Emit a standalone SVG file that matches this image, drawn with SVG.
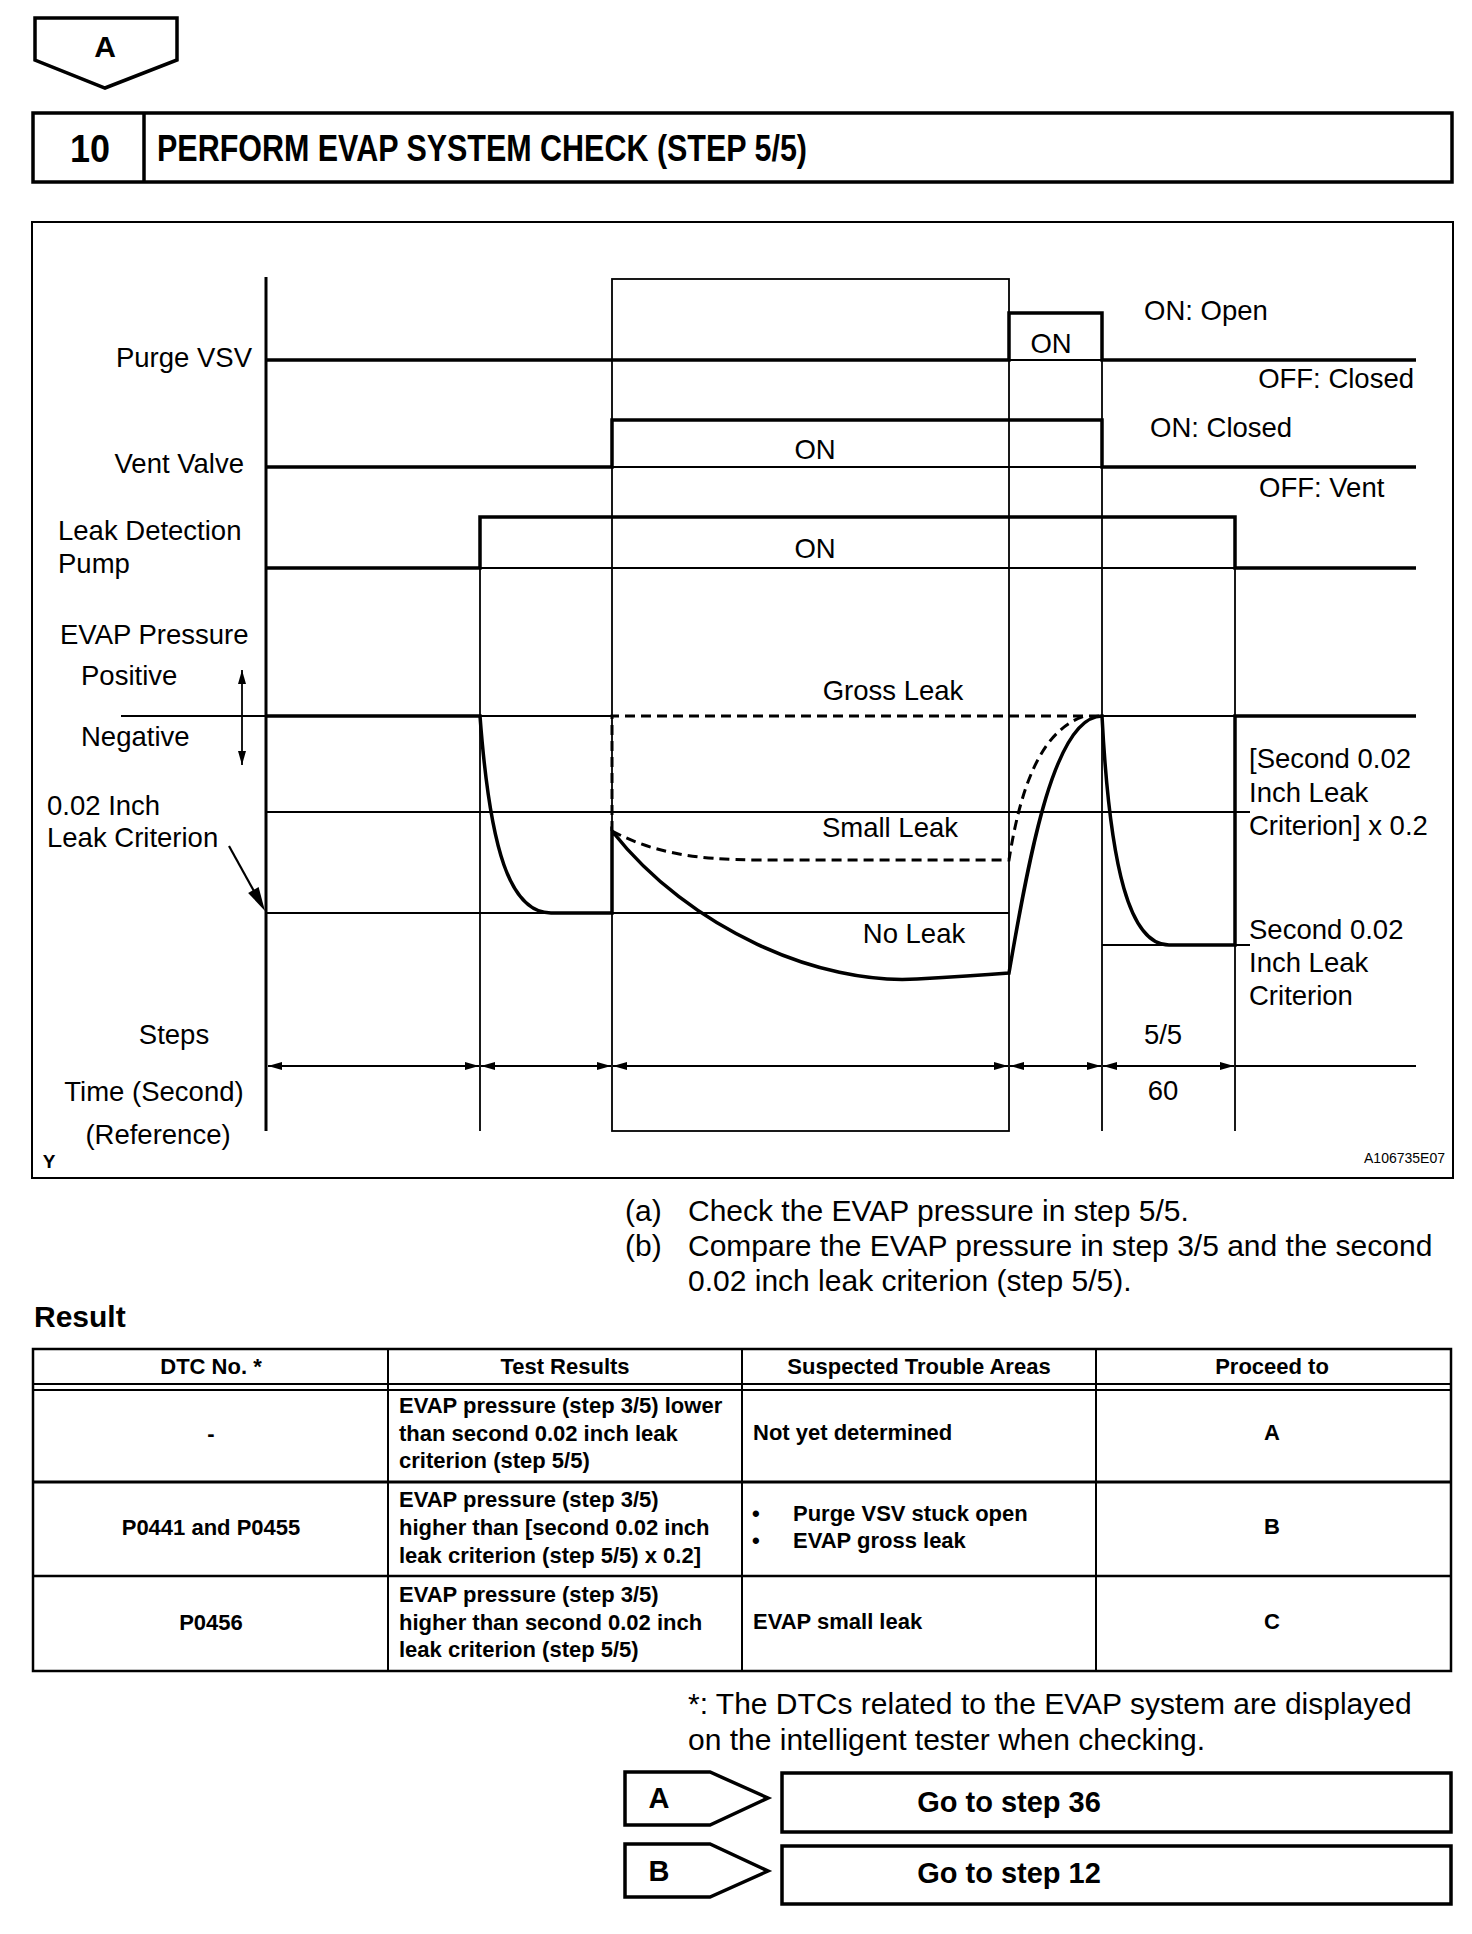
<svg xmlns="http://www.w3.org/2000/svg" width="1472" height="1934" viewBox="0 0 1472 1934">
<defs>
<style>
text{font-family:"Liberation Sans",Arial,Helvetica,sans-serif;fill:#000}
.lb{font-size:27.5px}
.bd{font-size:30px}
.tb{font-size:22px;font-weight:bold}
.b{font-weight:bold}
.mid{text-anchor:middle}
.end{text-anchor:end}
.thick{stroke:#000;stroke-width:3.5;fill:none}
.thin{stroke:#000;stroke-width:1.8;fill:none}
.dash{stroke:#000;stroke-width:3;fill:none;stroke-dasharray:10 6}
.frame{stroke:#000;stroke-width:3.5;fill:#fff}
.dim{stroke:#000;stroke-width:1.8;fill:none;marker-start:url(#ah);marker-end:url(#ah)}
</style>
<marker id="ah" markerWidth="14" markerHeight="8" refX="14" refY="4" orient="auto-start-reverse" markerUnits="userSpaceOnUse"><path d="M0,0 L14,4 L0,8 z" fill="#000"/></marker>
</defs>
<rect width="1472" height="1934" fill="#fff"/>

<g id="top-ref-A">
<polygon class="frame" points="35,18 177,18 177,60 105,88 35,60"/>
<text class="b mid" x="105" y="57" font-size="30">A</text>
</g>

<g id="title">
<rect class="frame" x="33" y="113" width="1419" height="69"/>
<line class="thick" x1="144" y1="113" x2="144" y2="182"/>
<text class="b mid" x="90" y="162" font-size="38" textLength="40" lengthAdjust="spacingAndGlyphs">10</text>
<text class="b" x="157" y="161" font-size="36" textLength="650" lengthAdjust="spacingAndGlyphs">PERFORM EVAP SYSTEM CHECK (STEP 5/5)</text>
</g>

<g id="chart">
<rect x="32" y="222" width="1421" height="956" fill="none" stroke="#000" stroke-width="2"/>
<g id="grid">
<line class="thick" x1="266" y1="277" x2="266" y2="1131" style="stroke-width:3"/>
<line class="thin" x1="480" y1="517" x2="480" y2="1131"/>
<rect class="thin" x="612" y="279" width="397" height="852"/>
<line class="thin" x1="1102" y1="313" x2="1102" y2="1131"/>
<line class="thin" x1="1235" y1="517" x2="1235" y2="1131"/>
<line class="thin" x1="1009" y1="360" x2="1102" y2="360"/>
<line class="thin" x1="612" y1="467" x2="1102" y2="467"/>
<line class="thin" x1="480" y1="568" x2="1235" y2="568"/>
<line class="thin" x1="121" y1="716" x2="612" y2="716"/>
<line class="thin" x1="1102" y1="716" x2="1235" y2="716"/>
<line class="thin" x1="266" y1="812" x2="1250" y2="812"/>
<line class="thin" x1="266" y1="913" x2="1009" y2="913"/>
<line class="thin" x1="1102" y1="945" x2="1250" y2="945"/>
</g>
<g id="signals">
<path id="purge-vsv" class="thick" d="M266,360 L1009,360 L1009,313 L1102,313 L1102,360 L1416,360"/>
<path id="vent-valve" class="thick" d="M266,467 L612,467 L612,420 L1102,420 L1102,467 L1416,467"/>
<path id="pump" class="thick" d="M266,568 L480,568 L480,517 L1235,517 L1235,568 L1416,568"/>
<path id="pressure" class="thick" d="M266,716 L480,716 C490,850 510,913 551,913 L612,913 L612,831 C690,930 820,985 917,979 Q970,976 1009,973 C1030,850 1055,716 1102,716 C1110,870 1130,945 1169,945 L1235,945 L1235,716 L1416,716"/>
<path id="gross-leak" class="dash" d="M612,831 L612,716 L1100,716"/>
<path id="small-leak" class="dash" d="M612,831 C650,851 690,860 760,860 L1009,860 C1020,790 1040,730 1085,716"/>
</g>
<g id="dimensions">
<line class="thin" x1="242" y1="670" x2="242" y2="765" style="marker-start:url(#ah);marker-end:url(#ah)"/>
<line class="thin" x1="229" y1="846" x2="255" y2="893" style="stroke-width:2.2"/>
<polygon points="265,911 258.6,887.1 248.1,892.9" fill="#000"/>
<line class="dim" x1="268" y1="1066" x2="479" y2="1066"/>
<line class="dim" x1="481" y1="1066" x2="611" y2="1066"/>
<line class="dim" x1="613" y1="1066" x2="1008" y2="1066"/>
<line class="dim" x1="1010" y1="1066" x2="1101" y2="1066"/>
<line class="dim" x1="1103" y1="1066" x2="1234" y2="1066"/>
<line class="thin" x1="1235" y1="1066" x2="1416" y2="1066"/>
</g>
<g id="chart-labels" class="lb">
<text class="end" x="252" y="367">Purge VSV</text>
<text class="end" x="244" y="473">Vent Valve</text>
<text x="58" y="540">Leak Detection</text>
<text x="58" y="573">Pump</text>
<text x="60" y="644">EVAP Pressure</text>
<text x="81" y="685">Positive</text>
<text x="81" y="746">Negative</text>
<text x="47" y="815">0.02 Inch</text>
<text x="47" y="847">Leak Criterion</text>
<text class="mid" x="174" y="1044">Steps</text>
<text class="mid" x="154" y="1101">Time (Second)</text>
<text class="mid" x="158" y="1144">(Reference)</text>
<text class="mid" x="1051" y="353">ON</text>
<text x="1144" y="320">ON: Open</text>
<text class="end" x="1414" y="388">OFF: Closed</text>
<text x="1150" y="437">ON: Closed</text>
<text class="mid" x="815" y="459">ON</text>
<text x="1259" y="497">OFF: Vent</text>
<text class="mid" x="815" y="558">ON</text>
<text class="mid" x="893" y="700">Gross Leak</text>
<text class="mid" x="890" y="837">Small Leak</text>
<text class="mid" x="914" y="943">No Leak</text>
<text x="1249" y="768">[Second 0.02</text>
<text x="1249" y="802">Inch Leak</text>
<text x="1249" y="835">Criterion] x 0.2</text>
<text x="1249" y="939">Second 0.02</text>
<text x="1249" y="972">Inch Leak</text>
<text x="1249" y="1005">Criterion</text>
<text class="mid" x="1163" y="1044">5/5</text>
<text class="mid" x="1163" y="1100">60</text>
</g>
<text class="b mid" x="49" y="1168" font-size="19">Y</text>
<text class="end" x="1445" y="1163" font-size="14">A106735E07</text>
</g>

<g id="instructions" class="bd">
<text x="625" y="1221">(a)</text>
<text x="688" y="1221">Check the EVAP pressure in step 5/5.</text>
<text x="625" y="1256">(b)</text>
<text x="688" y="1256">Compare the EVAP pressure in step 3/5 and the second</text>
<text x="688" y="1291">0.02 inch leak criterion (step 5/5).</text>
</g>

<text class="b" x="34" y="1327" font-size="30">Result</text>

<g id="result-table">
<rect x="33" y="1349" width="1418" height="322" fill="none" stroke="#000" stroke-width="2.5"/>
<line class="thin" x1="388" y1="1349" x2="388" y2="1671" style="stroke-width:2"/>
<line class="thin" x1="742" y1="1349" x2="742" y2="1671" style="stroke-width:2"/>
<line class="thin" x1="1096" y1="1349" x2="1096" y2="1671" style="stroke-width:2"/>
<line class="thin" x1="33" y1="1384" x2="1451" y2="1384" style="stroke-width:2"/>
<line class="thin" x1="33" y1="1390" x2="1451" y2="1390" style="stroke-width:2"/>
<line class="thin" x1="33" y1="1482" x2="1451" y2="1482" style="stroke-width:3"/>
<line class="thin" x1="33" y1="1576" x2="1451" y2="1576" style="stroke-width:2.5"/>
<g class="tb">
<text class="mid" x="211" y="1374">DTC No. *</text>
<text class="mid" x="565" y="1374">Test Results</text>
<text class="mid" x="919" y="1374">Suspected Trouble Areas</text>
<text class="mid" x="1272" y="1374">Proceed to</text>

<text class="mid" x="211" y="1441">-</text>
<text x="399" y="1413">EVAP pressure (step 3/5) lower</text>
<text x="399" y="1441">than second 0.02 inch leak</text>
<text x="399" y="1468">criterion (step 5/5)</text>
<text x="753" y="1440">Not yet determined</text>
<text class="mid" x="1272" y="1440">A</text>

<text class="mid" x="211" y="1535">P0441 and P0455</text>
<text x="399" y="1507">EVAP pressure (step 3/5)</text>
<text x="399" y="1535">higher than [second 0.02 inch</text>
<text x="399" y="1563">leak criterion (step 5/5) x 0.2]</text>
<text x="752" y="1521">•</text>
<text x="793" y="1521">Purge VSV stuck open</text>
<text x="752" y="1548">•</text>
<text x="793" y="1548">EVAP gross leak</text>
<text class="mid" x="1272" y="1534">B</text>

<text class="mid" x="211" y="1630">P0456</text>
<text x="399" y="1602">EVAP pressure (step 3/5)</text>
<text x="399" y="1630">higher than second 0.02 inch</text>
<text x="399" y="1657">leak criterion (step 5/5)</text>
<text x="753" y="1629">EVAP small leak</text>
<text class="mid" x="1272" y="1629">C</text>
</g>
</g>

<g id="footnote" class="bd">
<text x="688" y="1714">*: The DTCs related to the EVAP system are displayed</text>
<text x="688" y="1750">on the intelligent tester when checking.</text>
</g>

<g id="branch-A">
<polygon class="frame" points="625,1772 710,1772 768,1798 710,1825 625,1825"/>
<text class="b mid" x="659" y="1808" font-size="29">A</text>
<rect class="frame" x="782" y="1773" width="669" height="59"/>
<text class="b mid" x="1009" y="1812" font-size="29">Go to step 36</text>
</g>
<g id="branch-B">
<polygon class="frame" points="625,1844 710,1844 768,1871 710,1897 625,1897"/>
<text class="b mid" x="659" y="1881" font-size="29">B</text>
<rect class="frame" x="782" y="1846" width="669" height="58"/>
<text class="b mid" x="1009" y="1883" font-size="29">Go to step 12</text>
</g>
</svg>
